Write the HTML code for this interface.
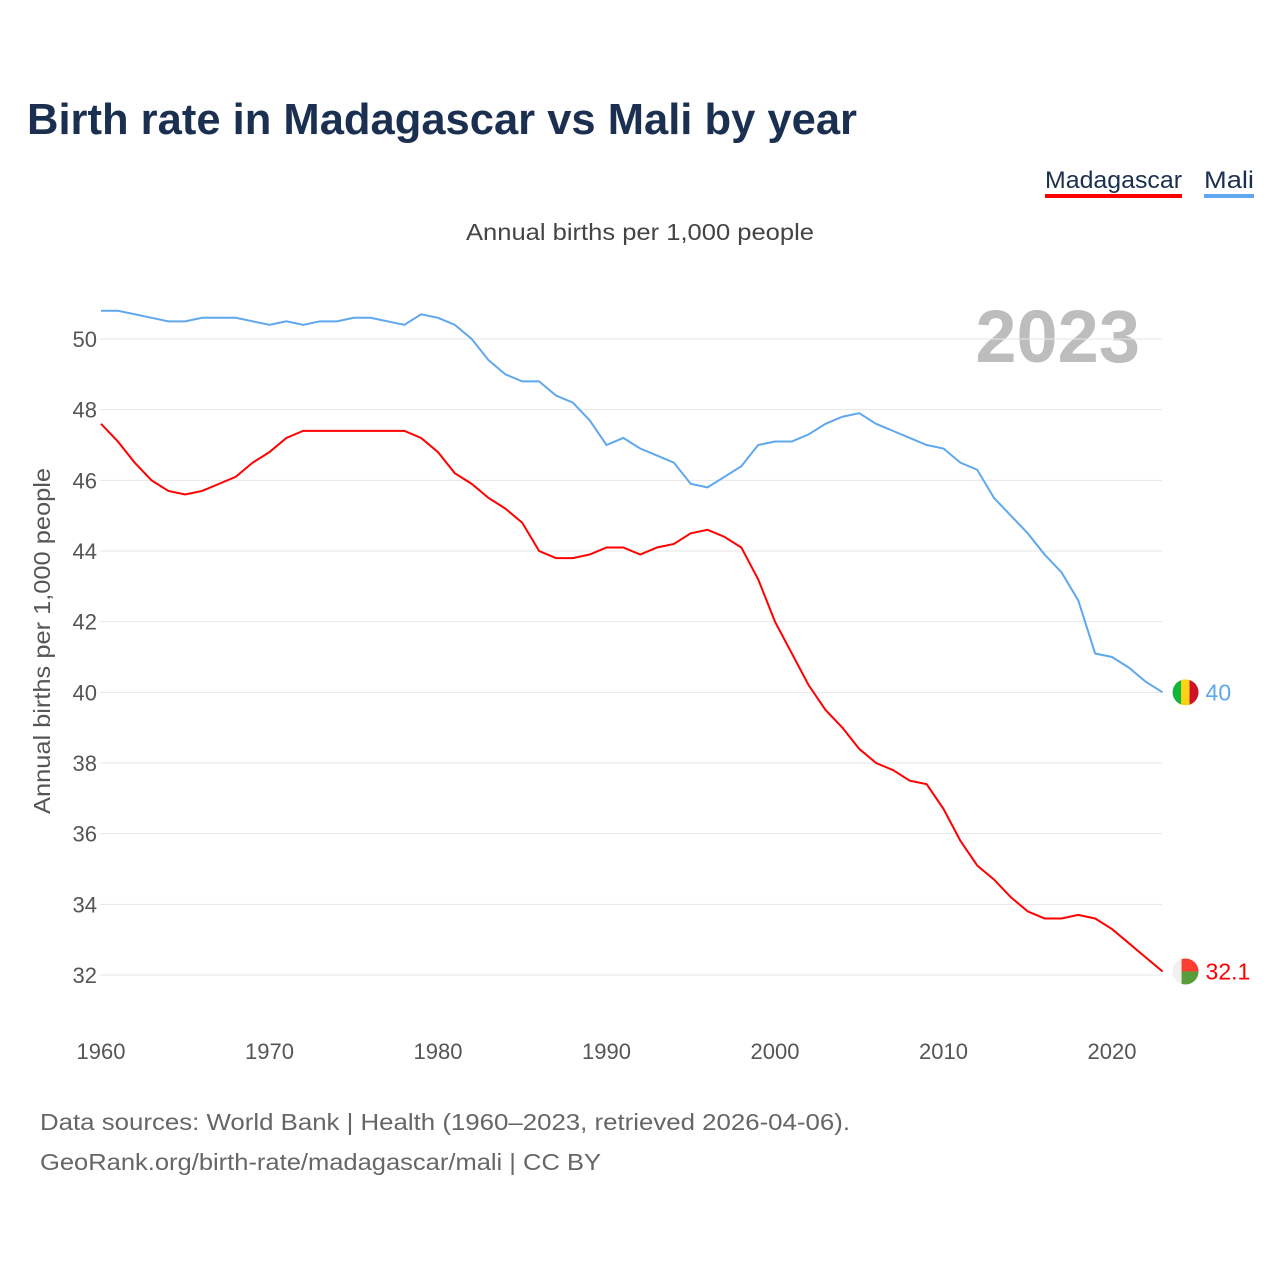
<!DOCTYPE html>
<html><head><meta charset="utf-8"><style>
body{margin:0;background:#fff;font-family:"Liberation Sans",sans-serif}
svg text{font-family:"Liberation Sans",sans-serif}
</style></head><body>
<svg width="1280" height="1280" viewBox="0 0 1280 1280">
<text x="27" y="134" font-size="44" font-weight="bold" fill="#1b3050" textLength="830" lengthAdjust="spacingAndGlyphs">Birth rate in Madagascar vs Mali by year</text>
<g><text x="1045" y="188" font-size="24" fill="#1b3050" textLength="137" lengthAdjust="spacingAndGlyphs">Madagascar</text><rect x="1045" y="194" width="137" height="4" fill="#ff0000"/></g>
<g><text x="1204" y="188" font-size="24" fill="#1b3050" textLength="50" lengthAdjust="spacingAndGlyphs">Mali</text><rect x="1204" y="194" width="50" height="4" fill="#5fa8ee"/></g>
<text x="466" y="240" font-size="23" fill="#444" textLength="348" lengthAdjust="spacingAndGlyphs">Annual births per 1,000 people</text>
<text x="1140" y="362" font-size="74" font-weight="bold" fill="#bdbdbd" text-anchor="end">2023</text>
<g id="grid"></g>
<g id="yt"></g>
<g id="xt"></g>
<text transform="translate(50,814) rotate(-90)" font-size="23" fill="#555" textLength="346" lengthAdjust="spacingAndGlyphs">Annual births per 1,000 people</text>
<g id="lines"></g>
<text x="40" y="1130" font-size="23" fill="#666" textLength="810" lengthAdjust="spacingAndGlyphs">Data sources: World Bank | Health (1960–2023, retrieved 2026-04-06).</text>
<text x="40" y="1170" font-size="23" fill="#666" textLength="561" lengthAdjust="spacingAndGlyphs">GeoRank.org/birth-rate/madagascar/mali | CC BY</text>
</svg>
<script>
const years=[];for(let y=1960;y<=2023;y++)years.push(y);
const mali=[50.8,50.8,50.7,50.6,50.5,50.5,50.6,50.6,50.6,50.5,50.4,50.5,50.4,50.5,50.5,50.6,50.6,50.5,50.4,50.7,50.6,50.4,50.0,49.4,49.0,48.8,48.8,48.4,48.2,47.7,47.0,47.2,46.9,46.7,46.5,45.9,45.8,46.1,46.4,47.0,47.1,47.1,47.3,47.6,47.8,47.9,47.6,47.4,47.2,47.0,46.9,46.5,46.3,45.5,45.0,44.5,43.9,43.4,42.6,41.1,41.0,40.7,40.3,40.0];
const mada=[47.6,47.1,46.5,46.0,45.7,45.6,45.7,45.9,46.1,46.5,46.8,47.2,47.4,47.4,47.4,47.4,47.4,47.4,47.4,47.2,46.8,46.2,45.9,45.5,45.2,44.8,44.0,43.8,43.8,43.9,44.1,44.1,43.9,44.1,44.2,44.5,44.6,44.4,44.1,43.2,42.0,41.1,40.2,39.5,39.0,38.4,38.0,37.8,37.5,37.4,36.7,35.8,35.1,34.7,34.2,33.8,33.6,33.6,33.7,33.6,33.3,32.9,32.5,32.1];
const yTicks=[32,34,36,38,40,42,44,46,48,50];
const xTicks=[1960,1970,1980,1990,2000,2010,2020];
const X=y=>101+(y-1960)*(1112-101)/60;
const Y=v=>975-(v-32)*(975-339)/18;
const NS="http://www.w3.org/2000/svg";
function mk(t,p,a){const e=document.createElementNS(NS,t);for(const k in a)e.setAttribute(k,a[k]);p.appendChild(e);return e;}
const grid=document.getElementById('grid'),yt=document.getElementById('yt'),xt=document.getElementById('xt'),lines=document.getElementById('lines');
yTicks.forEach(v=>{const l=mk('line',grid,{x1:100,x2:1162,y1:Y(v),y2:Y(v),stroke:'#e6e6e6','stroke-width':1});


const t=mk('text',yt,{x:97,y:Y(v)+8,'font-size':22,fill:'#555','text-anchor':'end'});t.textContent=v;

});
xTicks.forEach(v=>{const t=mk('text',xt,{x:X(v),y:1059,'font-size':22,fill:'#555','text-anchor':'middle'});t.textContent=v;

});
function series(d,c,name,flag){
const p=mk('path',lines,{d:d.map((v,i)=>(i?'L':'M')+X(years[i])+','+Y(v)).join(''),fill:'none',stroke:c,'stroke-width':2});


const lx=X(2023)+23,ly=Y(d[d.length-1]);
const g=mk('g',lines,{});


flag(g,lx,ly);
const t=mk('text',lines,{x:lx+20,y:ly+8,'font-size':23,fill:c});t.textContent=d[d.length-1];

}
series(mali,'#5fa8ee','mali',(g,x,y)=>{mk('clipPath',g,{id:'c1'}).appendChild(document.createElementNS(NS,'circle'));const c=g.querySelector('#c1 circle');c.setAttribute('cx',x);c.setAttribute('cy',y);c.setAttribute('r',13);
const h=mk('g',g,{'clip-path':'url(#c1)'});mk('rect',h,{x:x-13,y:y-13,width:9,height:26,fill:'#14b53a'});mk('rect',h,{x:x-4.5,y:y-13,width:9,height:26,fill:'#fcd116'});mk('rect',h,{x:x+4,y:y-13,width:9,height:26,fill:'#ce1126'});});
series(mada,'#ff0000','madagascar',(g,x,y)=>{mk('clipPath',g,{id:'c2'}).appendChild(document.createElementNS(NS,'circle'));const c=g.querySelector('#c2 circle');c.setAttribute('cx',x);c.setAttribute('cy',y);c.setAttribute('r',13);
const h=mk('g',g,{'clip-path':'url(#c2)'});mk('rect',h,{x:x-13,y:y-13,width:26,height:26,fill:'#f0f0f0'});mk('rect',h,{x:x-4,y:y-13,width:17,height:13,fill:'#fc3d32'});mk('rect',h,{x:x-4,y:y,width:17,height:13,fill:'#5a9e3a'});});
</script>
</body></html>
